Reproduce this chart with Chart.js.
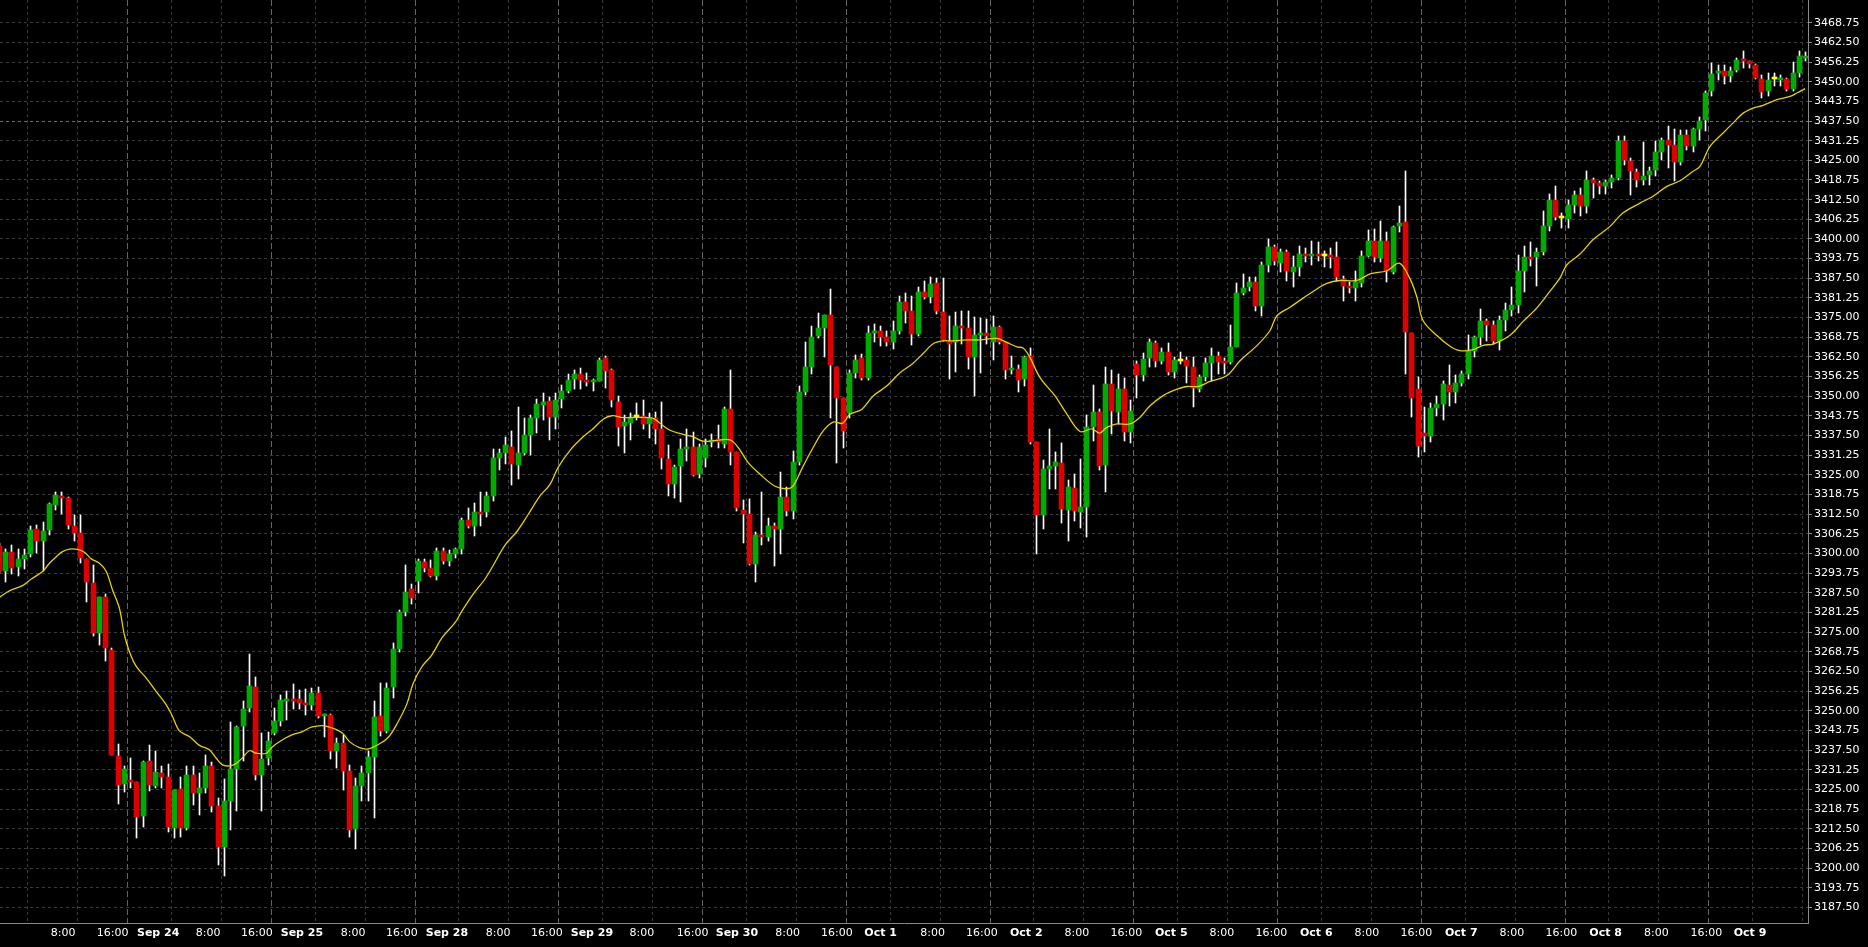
<!doctype html>
<html lang="en">
<head>
<meta charset="utf-8">
<title>US500,H1</title>
<style>
  * { margin: 0; padding: 0; }
  body { background: #000; width: 1868px; height: 947px; overflow: hidden; }
  #chart { display: block; }
</style>
</head>
<body>
<canvas id="chart" width="1868" height="947"></canvas>
<script src="https://cdn.jsdelivr.net/npm/chart.js"></script>
<script>
// hourly candles, oldest first (bar index = position on the x axis)
const open = [
  3302.5,3294.5,3300.6,3295.7,3298.2,3299.8,3307.8,3303.9,3307.4,3315.5,
  3318.4,3317.5,3308.9,3306.4,3298.3,3290.7,3274.7,3286.3,3269.4,3235.7,
  3226.7,3227.8,3227.5,3216.4,3233.9,3226.0,3230.1,3228.9,3212.7,3225.2,
  3212.6,3229.7,3223.8,3225.3,3232.3,3219.6,3206.6,3221.4,3231.4,3245.3,
  3250.8,3257.7,3229.7,3234.9,3243.1,3246.7,3253.0,3253.6,3253.6,3252.3,
  3251.9,3255.8,3248.2,3248.8,3237.3,3239.7,3230.8,3212.5,3226.2,3230.2,
  3235.2,3248.3,3243.5,3257.6,3269.6,3281.4,3288.6,3291.2,3297.3,3295.5,
  3293.0,3300.9,3297.5,3299.7,3301.3,3310.7,3308.6,3313.2,3313.1,3318.2,
  3330.5,3332.0,3334.0,3328.0,3331.8,3337.8,3343.2,3347.2,3348.4,3343.5,
  3349.0,3351.6,3355.5,3357.1,3355.1,3354.5,3355.0,3362.0,3358.2,3348.3,
  3340.5,3341.5,3343.5,3343.8,3341.3,3343.2,3339.7,3330.1,3322.0,3327.7,
  3333.1,3333.9,3325.2,3330.3,3335.4,3336.3,3334.7,3346.0,3332.3,3313.9,
  3312.5,3296.8,3305.9,3305.4,3308.6,3307.9,3318.0,3313.5,3329.1,3351.4,
  3359.3,3369.2,3371.8,3375.8,3359.3,3349.3,3344.8,3357.4,3362.0,3355.9,
  3370.1,3370.8,3368.9,3367.4,3370.6,3380.0,3377.1,3369.7,3383.2,3381.4,
  3386.1,3376.8,3367.6,3367.1,3372.4,3371.7,3362.6,3369.5,3370.2,3367.1,
  3372.1,3367.1,3358.2,3358.8,3355.6,3362.7,3335.3,3312.3,3327.0,3327.8,
  3328.8,3313.9,3320.7,3313.3,3314.8,3340.3,3345.1,3328.2,3353.9,3344.9,
  3352.3,3338.5,3360.1,3356.6,3362.1,3367.0,3361.3,3364.2,3357.6,3361.3,
  3361.6,3359.4,3352.3,3356.0,3360.6,3362.9,3361.0,3360.8,3365.8,3382.9,
  3384.6,3386.4,3378.8,3391.8,3397.6,3392.3,3396.0,3389.6,3391.0,3395.2,
  3394.7,3395.2,3394.7,3394.9,3394.4,3387.3,3385.0,3384.3,3386.0,3394.7,
  3399.5,3394.0,3399.5,3389.4,3404.1,3405.3,3370.1,3352.3,3338.2,3337.5,
  3346.2,3347.6,3353.5,3351.2,3354.1,3357.1,3364.5,3368.7,3374.0,3372.5,
  3367.5,3374.3,3377.5,3379.1,3389.9,3394.4,3394.2,3395.9,3404.0,3412.5,
  3406.7,3406.5,3410.9,3413.9,3410.4,3418.9,3417.8,3416.7,3418.1,3419.3,
  3431.0,3424.7,3421.2,3418.6,3420.2,3421.8,3427.6,3431.4,3429.8,3424.5,
  3433.2,3429.4,3435.1,3437.9,3447.1,3452.8,3453.5,3451.7,3453.6,3457.0,
  3456.5,3455.4,3451.0,3446.9,3450.7,3450.4,3451.0,3447.7,3452.7,3457.5
];
const high = [
  3303.3,3301.5,3302.8,3301.5,3301.5,3308.6,3309.1,3309.9,3316.0,3319.4,
  3319.4,3318.1,3312.3,3312.3,3298.3,3296.4,3286.3,3287.1,3270.1,3239.5,
  3232.3,3234.9,3227.5,3234.1,3239.0,3237.1,3232.6,3233.1,3224.9,3229.0,
  3232.5,3232.4,3230.2,3236.0,3233.7,3222.4,3228.2,3246.3,3245.2,3253.0,
  3267.9,3260.7,3243.1,3243.2,3250.8,3254.9,3256.3,3258.5,3256.5,3257.0,
  3257.4,3257.7,3248.9,3249.0,3241.3,3242.4,3232.8,3228.6,3232.3,3237.2,
  3253.1,3258.7,3258.7,3271.4,3282.2,3296.2,3290.3,3298.4,3298.4,3297.9,
  3301.6,3301.6,3301.1,3301.9,3311.3,3314.5,3316.1,3319.7,3319.7,3333.3,
  3333.1,3337.1,3339.1,3346.7,3343.2,3344.0,3349.1,3350.9,3349.9,3351.0,
  3353.7,3357.1,3358.5,3358.9,3357.5,3355.6,3362.1,3362.9,3358.8,3350.2,
  3344.0,3344.6,3347.8,3348.9,3344.8,3345.1,3348.3,3334.4,3328.1,3336.5,
  3339.7,3338.5,3334.9,3336.3,3338.1,3340.8,3346.7,3358.4,3332.3,3317.0,
  3317.2,3306.7,3319.6,3311.4,3309.6,3325.9,3321.0,3332.6,3353.3,3367.4,
  3372.4,3376.6,3375.8,3384.0,3359.3,3349.3,3358.4,3363.1,3363.3,3372.4,
  3372.9,3372.4,3370.8,3373.9,3381.9,3382.9,3381.9,3384.7,3386.7,3387.9,
  3387.7,3387.7,3375.5,3376.8,3377.1,3377.1,3375.2,3375.0,3374.5,3375.5,
  3372.4,3367.1,3362.8,3359.8,3362.9,3365.3,3335.3,3329.8,3339.5,3332.3,
  3335.1,3323.4,3325.2,3330.0,3344.0,3353.7,3346.0,3359.4,3358.4,3357.1,
  3355.8,3348.8,3361.3,3363.8,3368.2,3367.7,3365.4,3366.9,3362.4,3364.0,
  3362.4,3362.4,3356.6,3362.2,3365.4,3364.0,3362.2,3372.5,3386.0,3388.9,
  3387.8,3387.8,3392.6,3400.0,3398.2,3396.8,3396.5,3394.7,3397.9,3397.1,
  3399.5,3398.9,3396.1,3397.1,3398.9,3388.3,3386.2,3389.9,3396.3,3402.9,
  3403.2,3405.8,3402.1,3404.2,3410.4,3421.7,3370.1,3356.0,3346.7,3347.8,
  3350.2,3355.0,3360.0,3356.6,3357.9,3369.4,3369.0,3377.8,3374.7,3373.8,
  3375.4,3379.6,3384.6,3395.0,3397.7,3398.9,3397.1,3408.8,3414.3,3416.7,
  3408.3,3412.5,3415.4,3416.2,3421.5,3419.4,3418.3,3418.9,3420.4,3432.8,
  3432.8,3425.7,3422.3,3430.7,3422.8,3431.0,3432.1,3435.8,3435.1,3434.7,
  3434.7,3435.3,3438.7,3447.1,3455.9,3455.4,3455.4,3454.6,3457.5,3459.9,
  3456.7,3455.6,3452.0,3452.8,3452.8,3452.2,3451.2,3456.2,3459.6,3459.3
];
const low = [
  3293.7,3290.9,3293.4,3292.8,3295.1,3299.0,3300.3,3294.3,3305.8,3313.8,
  3312.5,3307.7,3303.9,3296.9,3284.7,3273.8,3270.9,3265.7,3236.0,3220.3,
  3224.3,3225.6,3209.5,3213.1,3224.5,3225.4,3225.6,3211.4,3209.5,3209.9,
  3212.0,3220.1,3216.9,3223.8,3217.8,3201.0,3197.5,3212.0,3218.2,3233.9,
  3249.6,3228.0,3218.2,3232.8,3242.4,3245.3,3247.1,3250.6,3250.6,3248.7,
  3250.1,3247.7,3241.6,3234.7,3231.8,3224.8,3209.9,3206.1,3221.2,3221.4,
  3215.9,3242.0,3242.9,3254.0,3268.6,3280.1,3284.1,3287.3,3294.0,3292.5,
  3291.7,3296.8,3296.0,3298.7,3300.0,3308.1,3305.6,3308.6,3311.6,3316.6,
  3326.4,3328.5,3321.7,3323.6,3331.4,3331.4,3338.3,3342.6,3336.0,3339.5,
  3346.4,3351.0,3352.4,3352.4,3353.2,3351.6,3354.8,3352.6,3346.7,3334.2,
  3331.9,3336.0,3342.4,3339.7,3336.8,3334.9,3326.9,3318.3,3317.5,3316.3,
  3329.5,3324.5,3324.0,3327.4,3333.8,3333.5,3333.5,3328.2,3313.5,3303.2,
  3296.4,3291.1,3302.7,3304.0,3296.1,3300.0,3312.0,3310.9,3328.2,3350.4,
  3357.0,3368.4,3362.5,3343.0,3328.9,3333.7,3343.2,3355.9,3355.1,3355.1,
  3367.4,3366.0,3366.0,3364.9,3369.9,3373.4,3366.2,3369.2,3380.8,3379.8,
  3376.1,3367.6,3355.6,3357.7,3366.5,3358.6,3350.0,3357.5,3366.5,3361.6,
  3366.5,3355.4,3357.2,3351.5,3353.3,3334.9,3300.0,3307.9,3320.6,3320.6,
  3309.8,3304.0,3310.4,3308.2,3305.1,3335.9,3326.6,3319.5,3338.0,3341.2,
  3335.9,3335.0,3349.5,3355.0,3359.2,3359.2,3360.1,3356.6,3355.8,3360.1,
  3354.1,3346.5,3351.3,3355.0,3355.0,3357.1,3357.1,3360.1,3365.6,3382.3,
  3383.6,3377.2,3375.4,3389.4,3391.8,3389.4,3386.5,3384.6,3388.3,3392.6,
  3391.8,3393.1,3391.0,3390.8,3386.5,3380.4,3382.7,3380.2,3384.8,3394.2,
  3392.6,3392.6,3386.2,3388.9,3402.1,3357.1,3343.5,3330.6,3332.2,3335.4,
  3343.8,3342.3,3346.8,3347.7,3353.2,3355.5,3362.4,3366.4,3367.7,3366.6,
  3364.8,3370.6,3375.4,3376.5,3383.0,3391.3,3384.9,3395.0,3402.4,3406.1,
  3403.5,3403.5,3408.3,3407.2,3408.3,3413.0,3414.3,3414.3,3416.2,3418.6,
  3423.6,3414.1,3416.4,3417.3,3417.0,3419.9,3425.2,3422.6,3418.3,3423.6,
  3428.4,3427.6,3431.6,3434.4,3445.3,3450.6,3449.3,3449.9,3453.1,3454.3,
  3454.3,3451.0,3444.8,3445.3,3448.5,3448.5,3446.9,3446.9,3451.4,3456.5
];
const close = [
  3294.3,3300.6,3295.3,3298.3,3299.4,3307.6,3303.9,3307.2,3315.7,3318.6,
  3317.6,3309.1,3306.5,3298.5,3290.9,3274.7,3286.3,3269.9,3236.0,3226.5,
  3231.4,3227.3,3216.2,3233.6,3226.5,3230.4,3228.9,3213.0,3224.9,3212.7,
  3229.7,3223.8,3225.3,3232.6,3219.7,3206.6,3221.4,3231.4,3245.0,3250.7,
  3258.0,3229.6,3234.8,3240.4,3246.6,3253.3,3253.6,3253.1,3252.4,3251.9,
  3255.8,3248.2,3248.7,3237.3,3239.9,3231.0,3212.2,3226.2,3230.2,3235.2,
  3247.9,3243.5,3257.3,3269.8,3281.4,3287.7,3285.8,3297.5,3295.4,3292.8,
  3300.9,3297.5,3299.7,3301.3,3310.8,3308.8,3313.3,3312.5,3318.2,3330.5,
  3332.0,3334.4,3328.4,3331.8,3337.8,3343.0,3347.4,3348.3,3343.3,3348.9,
  3351.6,3355.3,3357.1,3355.1,3354.6,3355.0,3361.6,3358.0,3348.7,3340.1,
  3341.7,3343.2,3343.5,3341.1,3343.2,3339.7,3330.3,3322.0,3327.4,3333.1,
  3333.8,3324.9,3333.8,3334.6,3336.2,3335.4,3346.0,3332.4,3314.4,3312.7,
  3296.8,3305.9,3305.4,3308.8,3307.9,3318.0,3313.5,3329.1,3351.4,3359.3,
  3368.9,3371.8,3375.8,3359.8,3349.3,3339.0,3357.4,3361.5,3355.9,3370.2,
  3370.8,3368.9,3367.4,3370.8,3380.0,3377.1,3369.7,3383.2,3381.7,3385.8,
  3377.1,3367.8,3366.7,3372.4,3371.7,3362.6,3369.5,3370.2,3369.2,3372.1,
  3367.3,3358.3,3358.8,3355.3,3362.5,3335.6,3312.3,3326.8,3327.8,3329.1,
  3314.3,3321.2,3313.5,3314.8,3340.2,3345.1,3327.7,3353.9,3345.2,3352.3,
  3338.5,3345.4,3356.6,3361.9,3367.4,3361.3,3364.2,3357.6,3361.6,3361.3,
  3359.5,3352.5,3356.0,3360.7,3362.9,3361.0,3360.5,3365.8,3382.8,3384.5,
  3386.4,3378.8,3391.8,3397.6,3393.1,3396.0,3389.7,3391.0,3395.2,3394.7,
  3395.2,3394.7,3394.7,3394.4,3387.8,3385.2,3384.3,3386.2,3394.7,3399.5,
  3394.2,3399.5,3389.7,3403.7,3405.0,3370.3,3349.5,3334.1,3337.5,3346.2,
  3347.6,3353.9,3351.2,3354.1,3357.1,3364.5,3368.7,3374.0,3372.5,3367.5,
  3374.3,3377.5,3379.1,3389.9,3394.4,3393.7,3395.9,3404.0,3412.5,3407.0,
  3406.7,3410.9,3413.9,3410.4,3418.9,3417.8,3416.7,3418.0,3419.3,3431.0,
  3425.0,3421.7,3418.6,3420.0,3421.5,3427.6,3431.4,3429.8,3424.5,3433.2,
  3429.4,3435.1,3437.4,3446.4,3452.4,3453.5,3451.7,3453.5,3457.0,3456.5,
  3455.6,3451.2,3446.6,3450.6,3450.7,3450.9,3447.7,3452.7,3458.1,3458.1
];

// moving average (bar position, value)
const maAt = [
  0,1.6,3.7,5.1,6.9,8,9.1,10.1,11.2,12.5,13.6,14.7,16,17.1,18.1,19.2,20,20.8,21.9,23.5,
  25.1,26.7,27.7,28.8,30.4,32,33.6,34.7,35.7,36.8,37.9,38.9,40,41.1,42.7,43.7,45.3,46.9,48.5,49.9,
  51.7,53.3,54.9,56,57.6,59,60.9,62.2,63.6,65.2,66.2,67.6,69.2,70.8,72.9,74,75.8,77.7,79,80.9,
  82.8,84.6,86.5,88.1,89.4,91.3,93.4,95,96.6,98,99.8,102,104.6,105.7,107.3,109.4,111,112.6,114.8,116.9,
  118.2,119.8,121.7,124.1,126,127,128.6,130.2,131.8,133.4,134.9,136.1,138,139.8,142,144.1,146,147.8,149.4,151,
  152.6,154.8,156.9,159.6,161.2,162.8,163.8,164.9,166.5,168.9,170.8,172.9,174.8,176,177.2,178.8,180.9,182.5,184.1,186.2,
  187.8,190,191.8,193.7,196.4,198.5,201.2,203.3,204.4,206.5,208.6,210.8,212.4,214.5,217.2,219.3,222,224,225.7,226.8,
  227.8,230,232.1,233.7,235.8,237.4,239,241.7,243.8,246,248.1,249.7,250.8,252.9,255,257.7,259.8,262.5,264.6,266.8,
  268.9,271,272.1,273.7,275.8,277.4,279,280.6,282.2,284.4,286.5,287.6,288.9
];
const maVal = [
  3286.1,3288.1,3289.8,3291.9,3294.3,3296.9,3299.0,3300.6,3301.4,3301.3,3300.4,3298.3,3296.9,3294.3,3288.4,3282.6,3274.1,3268.8,3264.1,3260.4,
  3256.1,3251.9,3248.2,3243.6,3241.8,3239.0,3237.6,3234.9,3232.8,3232.5,3233.3,3235.1,3237.3,3236.5,3236.5,3238.6,3240.8,3242.4,3243.4,3244.8,
  3245.3,3244.5,3242.9,3240.2,3238.3,3237.9,3239.6,3241.5,3245.8,3252.2,3258.7,3264.0,3267.8,3273.2,3278.0,3281.7,3287.1,3291.9,3296.2,3302.7,
  3307.0,3312.4,3318.3,3322.0,3327.4,3332.8,3337.1,3339.7,3342.7,3343.8,3343.2,3343.3,3343.0,3341.4,3339.2,3337.9,3337.1,3335.7,3336.0,3336.1,
  3333.7,3328.9,3325.2,3321.4,3320.6,3321.5,3327.8,3333.7,3339.0,3341.8,3341.4,3344.3,3345.9,3350.1,3353.3,3357.5,3360.2,3363.6,3366.7,3367.6,
  3367.6,3367.9,3367.9,3368.4,3367.1,3365.7,3365.3,3362.3,3355.9,3350.1,3344.3,3338.8,3339.6,3338.3,3340.1,3341.2,3341.2,3343.3,3347.0,3350.2,
  3351.8,3353.1,3353.1,3354.7,3356.6,3361.3,3366.1,3370.9,3375.6,3378.3,3381.2,3384.1,3385.9,3386.8,3386.8,3388.9,3389.9,3392.3,3387.3,3381.5,
  3374.0,3369.3,3365.9,3364.5,3364.8,3366.2,3366.6,3369.4,3373.8,3378.1,3383.4,3387.6,3391.8,3395.2,3399.8,3404.0,3408.3,3411.4,3413.6,3416.7,
  3418.5,3421.5,3423.1,3429.4,3433.7,3436.9,3440.0,3441.6,3442.5,3444.3,3445.3,3446.4,3447.8
];

// time axis: label positions (bar index) and texts
const tickAt = [
  10.2,18.1,25.4, 33.4,41.2,48.4, 56.6,64.4,71.6, 79.8,87.6,94.8,
  102.8,110.9,118.0, 126.1,134.0,141.0, 149.3,157.2,164.3, 172.4,180.3,187.5,
  195.6,203.5,210.7, 218.8,226.7,233.9, 242.0,249.9,257.0, 265.1,273.1,280.1
];
const tickText = [
  '8:00','16:00','Sep 24', '8:00','16:00','Sep 25', '8:00','16:00','Sep 28', '8:00','16:00','Sep 29',
  '8:00','16:00','Sep 30', '8:00','16:00','Oct 1', '8:00','16:00','Oct 2', '8:00','16:00','Oct 5',
  '8:00','16:00','Oct 6', '8:00','16:00','Oct 7', '8:00','16:00','Oct 8', '8:00','16:00','Oct 9'
];
// day separators and the other vertical grid lines (bar index)
const dayAt = [20.5,43.5,66.5,89.5,112.5,135.5,158.5,181.5,204.5,227.5,250.5,273.5];
const gridAt = [4.5,12.5,27.5,35.5,50.5,58.5,73.5,81.5,96.5,104.5,119.5,127.5,142.5,150.5,
  165.5,173.5,188.5,196.5,211.5,219.5,234.5,242.5,257.5,265.5,280.5,288.5];

// price axis
const yTicks = [
  3187.50,3193.75,3200.00,3206.25,3212.50,3218.75,3225.00,3231.25,3237.50,3243.75,
  3250.00,3256.25,3262.50,3268.75,3275.00,3281.25,3287.50,3293.75,3300.00,3306.25,
  3312.50,3318.75,3325.00,3331.25,3337.50,3343.75,3350.00,3356.25,3362.50,3368.75,
  3375.00,3381.25,3387.50,3393.75,3400.00,3406.25,3412.50,3418.75,3425.00,3431.25,
  3437.50,3443.75,3450.00,3456.25,3462.50,3468.75
];
const markLevel = 3437.50;

const X_MIN = 0.096, X_MAX = 289.376;
const Y_MIN = 3182.54, Y_MAX = 3475.97;

const UP = '#00aa00', DOWN = '#dc0000', DOJI = '#ffff00';

const wicks = open.map((v, i) => ({ x: i, y: [low[i], high[i]] }));
const bodies = open.map((v, i) => ({ x: i, y: [v, close[i]] }));
const ma = maAt.map((x, i) => ({ x: x, y: maVal[i] }));

const font = { family: 'DejaVu Sans', size: 11 };

// keep candles on whole pixels so wicks stay crisp
const snapBars = {
  id: 'snapBars',
  afterDatasetUpdate(chart, args) {
    if (args.meta.type !== 'bar') return;
    args.meta.data.forEach(el => {
      el.x = Math.floor(el.x) + 0.5;
      el.y = Math.round(el.y);
      el.base = Math.round(el.base);
    });
  }
};

const gridAxis = (list, color, dash) => ({
  type: 'linear',
  position: 'top',
  min: X_MIN, max: X_MAX,
  offset: false,
  afterBuildTicks: a => { a.ticks = list.map(v => ({ value: v })); },
  afterFit: a => { a.height = 0; a.paddingLeft = a.paddingRight = 0; },
  ticks: { display: false },
  grid: { color: color, drawTicks: false, offset: false },
  border: { display: false, dash: dash }
});

const config = {
  type: 'bar',
  data: {
    datasets: [
      {
        type: 'line',
        data: ma,
        borderColor: '#e6d200',
        borderWidth: 1.3,
        pointRadius: 0,
        tension: 0.35,
        xAxisID: 'x', yAxisID: 'y',
        clip: 0,
        order: 0
      },
      {
        data: bodies,
        backgroundColor: ctx => {
          const i = ctx.dataIndex;
          return close[i] > open[i] ? UP : close[i] < open[i] ? DOWN : DOJI;
        },
        barThickness: 5,
        minBarLength: 2,
        grouped: false,
        xAxisID: 'x', yAxisID: 'y',
        clip: 0,
        order: 1
      },
      {
        data: wicks,
        backgroundColor: '#ffffff',
        barThickness: 1,
        grouped: false,
        xAxisID: 'x', yAxisID: 'y',
        clip: 0,
        order: 2
      }
    ]
  },
  options: {
    responsive: false,
    animation: false,
    events: [],
    layout: { padding: 0, autoPadding: false },
    plugins: { legend: { display: false }, tooltip: { enabled: false } },
    scales: {
      xg: gridAxis(gridAt, '#3a3a3a', [3, 3]),
      xs: gridAxis(dayAt, '#646464', [6, 3]),
      x: {
        type: 'linear',
        position: 'bottom',
        min: X_MIN, max: X_MAX,
        offset: false,
        afterBuildTicks: a => { a.ticks = tickAt.map(v => ({ value: v })); },
        afterFit: a => { a.height = 24; a.paddingLeft = a.paddingRight = 0; },
        grid: { display: false, drawTicks: false, offset: false },
        border: { color: '#8a8a8a', width: 1 },
        ticks: {
          autoSkip: false,
          maxRotation: 0,
          padding: 4,
          color: '#ffffff',
          font: ctx => ({ family: 'DejaVu Sans', size: 11,
            weight: tickText[ctx.index] && tickText[ctx.index].indexOf(':') < 0 ? 'bold' : 'normal' }),
          callback: (v, i) => tickText[i]
        }
      },
      y: {
        type: 'linear',
        position: 'right',
        min: Y_MIN, max: Y_MAX,
        afterBuildTicks: a => { a.ticks = yTicks.map(v => ({ value: v })); },
        afterFit: a => { a.width = 60; a.paddingTop = 0; a.paddingBottom = 0; },
        grid: {
          color: ctx => (ctx.tick && ctx.tick.value === markLevel) ? '#6e6e6e' : '#3a3a3a',
          tickColor: '#8a8a8a',
          tickLength: 4,
          tickBorderDash: []
        },
        border: { color: '#8a8a8a', width: 1, dash: [3, 3] },
        ticks: {
          padding: 2,
          color: '#ffffff',
          font: font,
          callback: v => v.toFixed(2)
        }
      }
    }
  },
  plugins: [snapBars]
};

const chart = new Chart(document.getElementById('chart'), config);
</script>
</body>
</html>
